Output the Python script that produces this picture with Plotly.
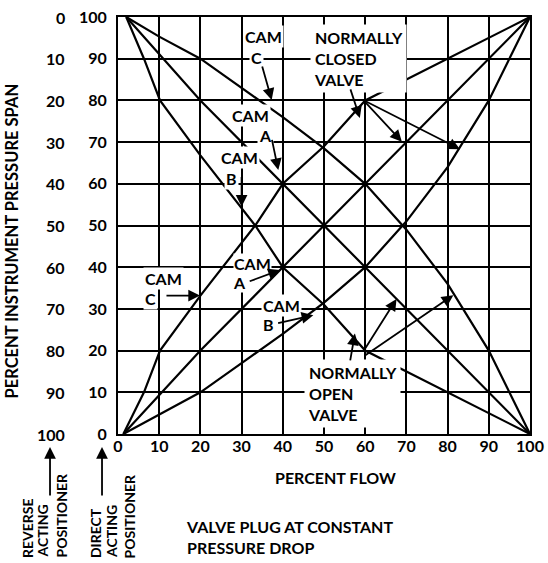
import plotly.graph_objects as go

# ---------------- data ----------------
flow_ticks = [0, 10, 20, 30, 40, 50, 60, 70, 80, 90, 100]
flow_labels = ["0", "10", "20", "30", "40", "50", "60", "70", "80", "90", "100"]
direct_span_ticks = [0, 10, 20, 30, 40, 50, 60, 70, 80, 90, 100]
direct_span_labels = ["0", "10", "20", "30", "40", "50", "60", "70", "80", "90", "100"]
reverse_span_labels = ["100", "90", "80", "70", "60", "50", "40", "30", "20", "10", "0"]

# Normally closed valve (rising curves), span on direct-acting scale
nc_cam_a_flow = [1.3, 20, 100]
nc_cam_a_span = [0, 20, 100]
nc_cam_c_flow = [1.3, 6.3, 10.2, 20, 33.3, 40, 50, 60, 70, 80, 90, 100]
nc_cam_c_span = [0, 10, 20, 33.2, 50, 60, 69, 80, 85, 90, 95, 100]
nc_cam_b_flow = [1.3, 10, 20, 30, 40, 50, 60, 70, 80, 90, 100]
nc_cam_b_span = [0, 4.7, 10, 17, 24, 31.5, 40, 51, 64, 80, 100]

# Normally open valve (falling curves), span on direct-acting scale
no_cam_a_flow = [2, 20, 100]
no_cam_a_span = [100, 80, 0]
no_cam_b_flow = [2, 6.3, 10.2, 20, 33.3, 40, 50, 60, 70, 80, 90, 100]
no_cam_b_span = [100, 90, 80, 66.8, 50, 40, 31, 20, 15, 10, 5, 0]
no_cam_c_flow = [2, 10, 20, 30, 40, 50, 60, 70, 80, 90, 100]
no_cam_c_span = [100, 95.3, 90, 83, 76, 68.5, 60, 49, 36, 20, 0]

curves = [
    (nc_cam_a_flow, nc_cam_a_span),
    (nc_cam_b_flow, nc_cam_b_span),
    (nc_cam_c_flow, nc_cam_c_span),
    (no_cam_a_flow, no_cam_a_span),
    (no_cam_b_flow, no_cam_b_span),
    (no_cam_c_flow, no_cam_c_span),
]

FONT = "Lato"
BLACK = "black"

fig = go.Figure()
for fx, fy in curves:
    fig.add_trace(go.Scatter(x=fx, y=fy, mode="lines",
                             line=dict(color=BLACK, width=2.2),
                             showlegend=False, hoverinfo="skip"))

annotations = []

# reverse-acting tick column
for v, lab in zip(direct_span_ticks, reverse_span_labels):
    annotations.append(dict(x=-0.124, xref="paper", y=v, yref="y", text=lab,
                            showarrow=False, xanchor="right", yanchor="middle",
                            font=dict(family=FONT, size=16, color=BLACK, weight="bold")))

def label(x, y, text, xanchor="center", align="center", size=16, pad=1):
    annotations.append(dict(x=x, y=y, xref="x", yref="y", text=text, showarrow=False,
                            xanchor=xanchor, yanchor="middle", align=align,
                            bgcolor="white", borderpad=pad,
                            font=dict(family=FONT, size=size, color=BLACK, weight="bold")))

def arrow(tx, ty, hx, hy):
    annotations.append(dict(x=hx, y=hy, ax=tx, ay=ty, xref="x", yref="y",
                            axref="x", ayref="y", text="", showarrow=True,
                            arrowhead=2, arrowsize=1.3, arrowwidth=1.8,
                            arrowcolor=BLACK, standoff=0, startstandoff=0))

# CAM labels
label(35.4, 95.3, "CAM"); label(33.7, 90.3, "C")
label(32.2, 76.3, "CAM"); label(35.9, 71.5, "A")
label(29.6, 66.3, "CAM"); label(27.6, 61.2, "B")
label(11.1, 37.2, "CAM"); label(8.0, 32.6, "C")
label(32.6, 40.8, "CAM", pad=0); label(29.6, 36.3, "A", pad=0)
label(39.7, 30.8, "CAM"); label(36.6, 26.3, "B")
label(46.6, 90.1, "NORMALLY<br>CLOSED<br>VALVE", xanchor="left", align="left", pad=3)
label(45.2, 9.6, "NORMALLY<br>OPEN<br>VALVE", xanchor="left", align="left", pad=3)

arrow(34.9, 88.5, 37.3, 80.1)
arrow(37.3, 70.9, 38.9, 63.3)
arrow(30.0, 62.0, 30.0, 54.5)
arrow(11.4, 33.2, 19.9, 33.2)
arrow(31.6, 36.5, 39.3, 39.3)
arrow(38.5, 26.5, 47.4, 28.5)
arrow(56.3, 83.0, 58.7, 75.8)
arrow(59.5, 80.1, 68.9, 70.1)
arrow(59.5, 80.1, 83.0, 68.3)
arrow(56.3, 17.3, 57.5, 24.1)
arrow(59.5, 19.7, 67.6, 32.4)
arrow(59.5, 18.5, 81.4, 33.3)

def ptext(x, y, text, angle=0, xanchor="center", yanchor="middle", align="center", size=16):
    annotations.append(dict(x=x, y=y, xref="paper", yref="paper", text=text,
                            showarrow=False, textangle=angle, xanchor=xanchor,
                            yanchor=yanchor, align=align,
                            font=dict(family=FONT, size=size, color=BLACK, weight="bold")))

ptext(-0.2570, 0.462, "PERCENT INSTRUMENT PRESSURE SPAN", angle=-90, size=16.5)
ptext(0.529, -0.1055, "PERCENT FLOW")
ptext(0.1600, -0.2482, "VALVE PLUG AT CONSTANT<br>PRESSURE DROP", xanchor="left", align="left")
for xp, t in [(-0.2209, "REVERSE"), (-0.1820, "ACTING"), (-0.1383, "POSITIONER"),
              (-0.0558, "DIRECT"), (-0.0158, "ACTING"), (0.029, "POSITIONER")]:
    ptext(xp, -0.3022, t, angle=-90, yanchor="bottom", size=14)

for xp in [-0.165, -0.0388]:
    annotations.append(dict(x=xp, y=-0.031, xref="paper", yref="paper", text="",
                            showarrow=True, ax=0, ay=50, arrowhead=2, arrowsize=1.3,
                            arrowwidth=1.8, arrowcolor=BLACK, standoff=0))

fig.update_layout(
    width=548, height=563,
    margin=dict(l=118, r=18, t=17, b=129, autoexpand=False),
    paper_bgcolor="white", plot_bgcolor="white",
    font=dict(family=FONT, size=16, color=BLACK, weight="bold"),
    showlegend=False,
    annotations=annotations,
)
fig.update_xaxes(range=[0, 100], tickvals=flow_ticks, ticktext=flow_labels,
                 showgrid=True, gridcolor=BLACK, gridwidth=2, zeroline=False,
                 showline=True, linecolor=BLACK, linewidth=2, mirror=True,
                 ticks="", ticklabelstandoff=-3, automargin=False,
                 tickfont=dict(family=FONT, size=16, color=BLACK, weight="bold"))
fig.update_yaxes(range=[0, 100], tickvals=direct_span_ticks, ticktext=direct_span_labels,
                 showgrid=True, gridcolor=BLACK, gridwidth=2, zeroline=False,
                 showline=True, linecolor=BLACK, linewidth=2, mirror=True,
                 ticks="", ticklabelstandoff=6, automargin=False,
                 tickfont=dict(family=FONT, size=16, color=BLACK, weight="bold"))

fig.write_html("out.html", config={"displayModeBar": False},
               post_script="document.body.style.margin='0';document.body.style.overflow='hidden';")
